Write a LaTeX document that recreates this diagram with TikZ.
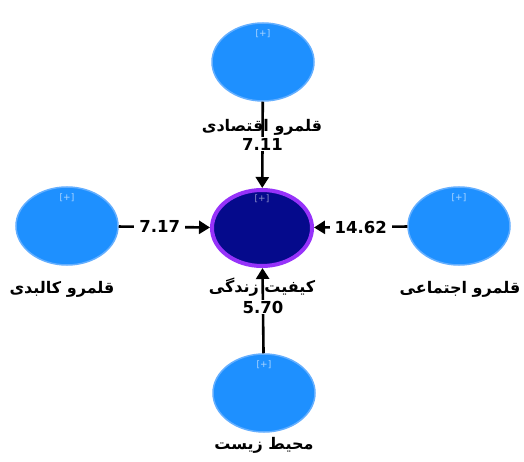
\documentclass[tikz,border=0pt]{standalone}
\usepackage{fontspec}
\usetikzlibrary{shapes.geometric,arrows.meta}
\TeXXeTstate=1
\newfontfamily\arabicfont[Script=Arabic]{DejaVu Sans}
\newfontfamily\numfont{DejaVu Sans}
\definecolor{lvblue}{RGB}{30,144,255}
\definecolor{lvedge}{RGB}{100,175,255}
\definecolor{navyc}{RGB}{5,10,140}
\definecolor{purplec}{RGB}{150,50,250}
\tikzset{
  outer/.style={ellipse, fill=lvblue, draw=lvedge, line width=1.5pt, minimum width=102pt, minimum height=78pt, inner sep=0pt},
  central/.style={ellipse, fill=navyc, draw=purplec, line width=4pt, minimum width=100pt, minimum height=76pt, inner sep=0pt},
  plus/.style={text=white!65!lvblue, font=\numfont\fontsize{9}{10}\selectfont, inner sep=0pt},
  plusc/.style={text=white!55!navyc, font=\numfont\fontsize{9}{10}\selectfont, inner sep=0pt},
  cname/.style={font=\arabicfont\bfseries\fontsize{16}{18}\selectfont, inner sep=0pt},
  coef/.style={fill=white, font=\numfont\bfseries\fontsize{16.5}{18}\selectfont, inner xsep=5pt, inner ysep=0.5pt},
  arr/.style={line width=2.6pt, -{Triangle[length=11pt,width=13pt]}},
}
\begin{document}
\begin{tikzpicture}[x=1pt,y=-1pt]
\useasboundingbox[fill=white] (0,0) rectangle (524,462);
\node[outer] (T) at (263,62) {};
\node[central] (C) at (262,228) {};
\node[outer] (L) at (67,226) {};
\node[outer] (R) at (459,226) {};
\node[outer] (B) at (264,393) {};
\node[plus] (Tp) at ([yshift=-11pt]T.north) {[+]};
\node[plusc] (Cp) at ([yshift=-11pt]C.north) {[+]};
\node[plus] (Lp) at ([yshift=-11pt]L.north) {[+]};
\node[plus] (Rp) at ([yshift=-11pt]R.north) {[+]};
\node[plus] (Bp) at ([yshift=-11pt]B.north) {[+]};
\draw[arr] (T) -- (C) node[coef, pos=0.49] (cT) {7.11};
\draw[arr] (L) -- (C) node[coef, pos=0.45] (cL) {7.17};
\draw[arr] (R) -- (C) node[coef, pos=0.5] (cR) {14.62};
\draw[arr] (B) -- (C) node[coef, pos=0.54] (cB) {5.70};
\node[cname] (Tn) at (262,127) {\beginR قلمرو اقتصادی\endR};
\node[cname] (Ln) at (62,289) {\beginR قلمرو کالبدی\endR};
\node[cname] (Cn) at (262,287) {\beginR کیفیت زندگی\endR};
\node[cname] (Rn) at (460,289) {\beginR قلمرو اجتماعی\endR};
\node[cname] (Bn) at (264,445) {\beginR محیط زیست\endR};
\end{tikzpicture}
\end{document}
